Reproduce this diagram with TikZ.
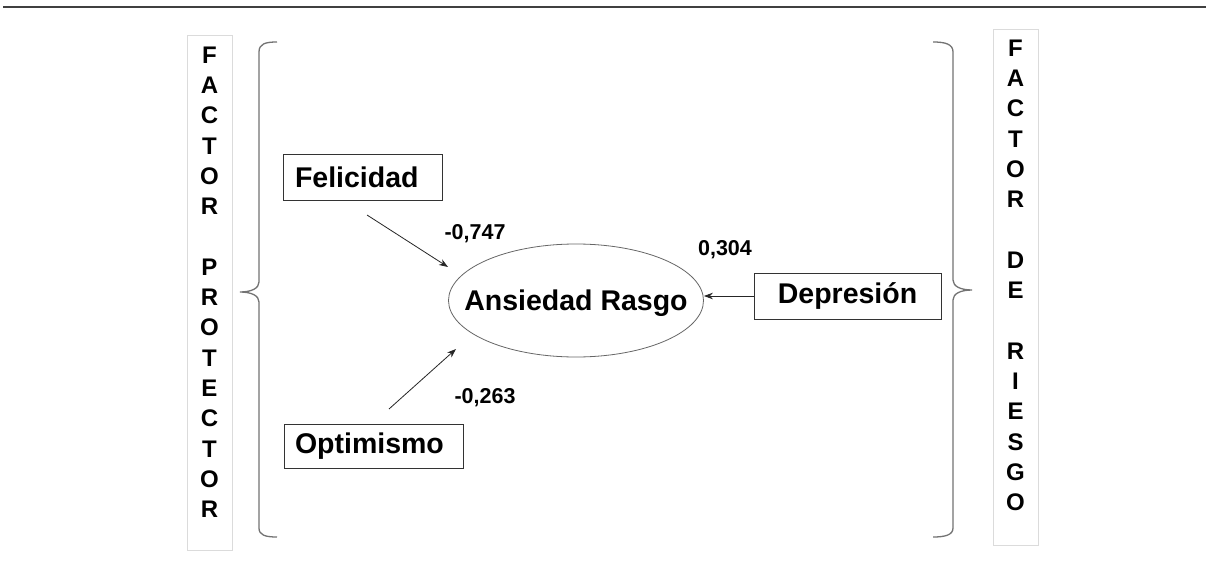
\documentclass[tikz,border=0pt]{standalone}
\usepackage{fontspec}
\setmainfont{Liberation Sans}
\usetikzlibrary{shapes.geometric,arrows.meta}
\begin{document}
\begin{tikzpicture}[x=1pt,y=-1pt,
  box/.style={draw=black!80, line width=0.9pt, font=\fontsize{28.5}{30}\selectfont\bfseries, minimum height=46pt, inner ysep=0pt},
  coef/.style={font=\fontsize{21.5}{24}\selectfont\bfseries, inner sep=0pt},
  letter/.style={font=\fontsize{24}{26}\selectfont\bfseries, inner sep=0pt},
  colbox/.style={draw=black!14, line width=0.7pt, inner sep=0pt},
  brace/.style={draw=black!55, line width=1.3pt},
  arr/.style={-{Stealth[length=9pt,width=6.5pt]}, line width=0.8pt, draw=black!85}
]
\useasboundingbox (0,0) rectangle (1206,564);
\fill[white] (0,0) rectangle (1206,564);
\draw[black!75, line width=2pt] (3,7.5) -- (1206,7.5);

% side columns
\node[colbox, minimum width=45pt, minimum height=515pt, anchor=north west] (lbox) at (187,35) {};
\node[colbox, minimum width=45pt, minimum height=516pt, anchor=north west] (rbox) at (993,29) {};
\foreach \ch [count=\i from 0] in {F,A,C,T,O,R,{},P,R,O,T,E,C,T,O,R}
  \node[letter] (L\i) at (209.5,{55+30.3*\i}) {\ch};
\foreach \ch [count=\i from 0] in {F,A,C,T,O,R,{},D,E,{},R,I,E,S,G,O}
  \node[letter] (R\i) at (1015.5,{48+30.3*\i}) {\ch};

% braces
\draw[brace] (277,42) .. controls (265,42) and (259,44) .. (259,52) -- (259,282)
  .. controls (259,288) and (252,292) .. (240,292)
  .. controls (252,292) and (259,296) .. (259,302) -- (259,528)
  .. controls (259,535) and (265,537) .. (277,537);
\draw[brace] (933,42) .. controls (945,42) and (953,44) .. (953,52) -- (953,280)
  .. controls (953,286) and (960,290) .. (972,290)
  .. controls (960,290) and (953,294) .. (953,300) -- (953,528)
  .. controls (953,535) and (945,537) .. (933,537);

% nodes
\node[box, text width=135pt, inner xsep=12pt, align=left] (fel) at (362.5,177) {Felicidad};
\node[box, text width=157pt, inner xsep=11pt, align=left, minimum height=44pt] (opt) at (373.5,446) {Optimismo};
\node[box, minimum width=187pt, align=center] (dep) at (847.5,296) {Depresión};
\node[ellipse, draw=black!60, line width=0.8pt, minimum width=255pt, minimum height=113pt, inner sep=0pt] (ell) at (576,300.5) {};
\node[font=\fontsize{28.5}{30}\selectfont\bfseries, text depth=0pt, inner sep=0pt] (elltext) at (ell.center) {Ansiedad Rasgo};

% connectors
\coordinate (f1) at (367,215);
\coordinate (f2) at (448,267);
\coordinate (o1) at (389,409);
\coordinate (o2) at (456,349);
\draw[arr] (f1) -- (f2);
\draw[arr] (o1) -- (o2);
\draw[arr] (dep.west) -- (ell.east |- dep.west);

% coefficients
\node[coef] (c1) at (475,234) {-0,747};
\node[coef] (c2) at (725,250) {0,304};
\node[coef] (c3) at (485,398) {-0,263};
\end{tikzpicture}
\end{document}
